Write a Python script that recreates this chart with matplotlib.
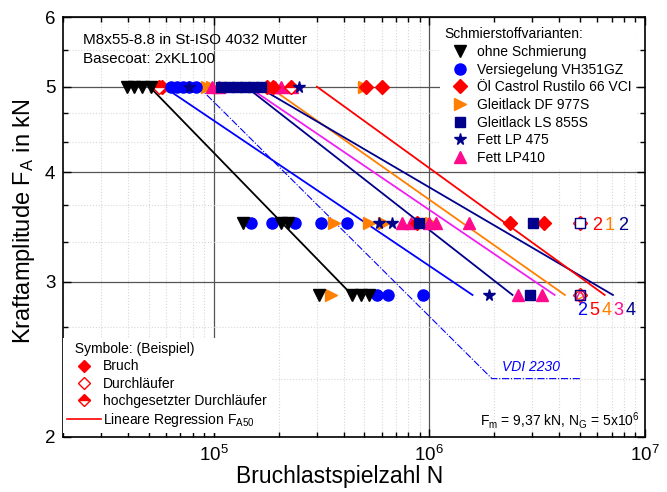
import matplotlib
matplotlib.use("Agg")
import matplotlib.pyplot as plt
from matplotlib.lines import Line2D
from matplotlib.ticker import FixedLocator, NullFormatter, LogLocator, ScalarFormatter

plt.rcParams["font.family"] = ["Liberation Sans", "DejaVu Sans"]
plt.rcParams["mathtext.fontset"] = "custom"
plt.rcParams["mathtext.rm"] = "Liberation Sans"
plt.rcParams["mathtext.it"] = "Liberation Sans:italic"

# --- fractures (N, F_A) per lubricant --------------------------------------
ohne_N = [39400, 42900, 46300, 50900, 136000, 205000, 221000,
          308000, 438000, 483000, 526000]
ohne_F = [5.0, 5.0, 5.0, 5.0, 3.5, 3.5, 3.5, 2.9, 2.9, 2.9, 2.9]

vers_N = [63100, 67300, 71800, 76500, 82500, 149000, 186000, 238000,
          315000, 416000, 573000, 645000, 938000]
vers_F = [5.0, 5.0, 5.0, 5.0, 5.0, 3.5, 3.5, 3.5, 3.5, 3.5, 2.9, 2.9, 2.9]

oel_N = [57300, 176500, 188000, 509000, 604000, 880000, 2360000, 3390000]
oel_F = [5.0, 5.0, 5.0, 5.0, 5.0, 3.5, 3.5, 3.5]

df_N = [92800, 98000, 498000, 362000, 526000, 618000, 1020000, 350000]
df_F = [5.0, 5.0, 5.0, 3.5, 3.5, 3.5, 3.5, 2.9]

ls_N = [107800, 117400, 127900, 139400, 151900, 165500, 898000, 3010000,
        2920000]
ls_F = [5.0, 5.0, 5.0, 5.0, 5.0, 5.0, 3.5, 3.5, 2.9]

lp475_N = [76500, 248500, 585000, 673000, 1900000]
lp475_F = [5.0, 5.0, 3.5, 3.5, 2.9]

lp410_N = [97900, 105500, 192000, 205000, 231000, 749000, 825000, 1000000,
           1078000, 1535000, 2590000, 3320000]
lp410_F = [5.0, 5.0, 5.0, 5.0, 5.0, 3.5, 3.5, 3.5, 3.5, 3.5, 2.9, 2.9]

# raised run-outs (hochgesetzte Durchlaeufer) and run-outs at N_G
oel_raised_N = [55500, 228000]
oel_raised_F = [5.0, 5.0]
N_G = 5e6
runout_mid_F = 3.5
runout_low_F = 2.9

# --- regression lines F_A50 (start N at 5 kN, end N at 2.9 kN) -------------
reg_F = [5.0, 2.9]
ohne_reg = [50400, 438000]
vers_reg = [58500, 1585000]
lp475_reg = [141000, 2430000]
lp410_reg = [144000, 3810000]
df_reg = [180000, 4250000]
ls_reg = [160000, 7100000]
oel_reg = [301000, 6500000]

vdi_N = [85000, 1950000, 5000000]
vdi_F = [5.0, 2.33, 2.33]

# number of run-outs per lubricant
mid_counts = ["2", "1", "2"]
low_counts = ["2", "5", "4", "3", "4"]

BLUE = "#0000FF"
RED = "#FF0000"
ORANGE = "#FF8000"
NAVY = "#00008B"
PINK = "#FF0A8C"
MAGENTA = "#F020F0"

fig = plt.figure(figsize=(6.67, 4.92), dpi=100)
ax = fig.add_axes([0.0945, 0.1118, 0.8725, 0.8536])
ax.set_xscale("log")
ax.set_yscale("log")
ax.set_xlim(2e4, 1e7)
ax.set_ylim(2, 6)

# grid
ax.yaxis.set_major_locator(FixedLocator([2, 3, 4, 5, 6]))
ax.yaxis.set_major_formatter(ScalarFormatter())
ax.yaxis.set_minor_locator(FixedLocator([2.33, 2.67, 3.33, 3.67, 4.33, 4.67, 5.5]))
ax.yaxis.set_minor_formatter(NullFormatter())
ax.xaxis.set_major_locator(LogLocator(base=10))
ax.xaxis.set_minor_locator(LogLocator(base=10, subs=range(2, 10)))
ax.xaxis.set_minor_formatter(NullFormatter())
ax.grid(which="minor", color="#d8d8d8", ls=":", lw=0.8)
ax.grid(which="major", color="#555555", ls="-", lw=0.9)
ax.set_axisbelow(True)
ax.tick_params(which="both", direction="in", top=True, right=True,
               labelsize=13.5, width=1)
ax.tick_params(which="major", length=6)
ax.tick_params(which="minor", length=3.5)
ax.tick_params(axis="x", which="major", pad=6)
ax.tick_params(axis="y", which="major", pad=5.5)
for s in ax.spines.values():
    s.set_linewidth(1.2)

# regression lines
lw = 1.3
ax.plot(ohne_reg, reg_F, color="black", lw=lw, zorder=2)
ax.plot(vers_reg, reg_F, color=BLUE, lw=lw, zorder=2)
ax.plot(lp475_reg, reg_F, color=NAVY, lw=lw, zorder=2)
ax.plot(lp410_reg, reg_F, color=MAGENTA, lw=lw, zorder=2)
ax.plot(df_reg, reg_F, color=ORANGE, lw=lw, zorder=2)
ax.plot(ls_reg, reg_F, color=NAVY, lw=lw, zorder=2)
ax.plot(oel_reg, reg_F, color=RED, lw=lw, zorder=2)
ax.plot(vdi_N, vdi_F, color=BLUE, lw=0.8, ls="-.", zorder=2)
ax.text(2.95e6, 2.40, "VDI 2230", style="italic", color=BLUE, fontsize=10,
        ha="center", va="center")

# fractures
ms = 8
ax.plot(df_N, df_F, ">", color=ORANGE, ms=ms, ls="none", zorder=3)
ax.plot(lp410_N, lp410_F, "^", color=PINK, ms=ms, ls="none", zorder=3)
ax.plot(oel_N, oel_F, "D", color=RED, ms=7, ls="none", zorder=3)
ax.plot(oel_raised_N, oel_raised_F, "D", color=RED, mfc=RED, fillstyle="top",
        markerfacecoloralt="white", ms=7, ls="none", zorder=3)
ax.plot(vers_N, vers_F, "o", color=BLUE, ms=ms, ls="none", zorder=3)
ax.plot(ls_N, ls_F, "s", color=NAVY, ms=6.5, ls="none", zorder=3)
ax.plot(lp475_N, lp475_F, "*", color=NAVY, ms=8.5, ls="none", zorder=3)
ax.plot(ohne_N, ohne_F, "v", color="black", ms=ms, ls="none", zorder=3)

# run-outs at N_G
ax.plot([N_G], [runout_mid_F], "D", mfc="none", mec=RED, ms=7, zorder=3)
ax.plot([N_G], [runout_mid_F], ">", mfc="none", mec=ORANGE, ms=7, zorder=3)
ax.plot([N_G], [runout_mid_F], "s", mfc="white", mec=NAVY, ms=6.5, zorder=3)
for m, c in [("o", BLUE), ("D", RED), (">", ORANGE), ("^", PINK), ("s", NAVY)]:
    ax.plot([N_G], [runout_low_F], m, mfc="none", mec=c, ms=7, zorder=3)

mid_cols = [RED, ORANGE, NAVY]
for i, (t, c) in enumerate(zip(mid_counts, mid_cols)):
    ax.annotate(t, xy=(N_G, runout_mid_F), xytext=(12.2 + 9.4 * i, -2),
                textcoords="offset points", ha="center", va="center",
                color=c, fontsize=13)
low_cols = [BLUE, RED, ORANGE, PINK, NAVY]
for i, (t, c) in enumerate(zip(low_counts, low_cols)):
    ax.annotate(t, xy=(N_G, runout_low_F), xytext=(1.4 + 8.7 * i, -11),
                textcoords="offset points", ha="center", va="center",
                color=c, fontsize=13)

# texts
ax.text(0.034, 0.946, "M8x55-8.8 in St-ISO 4032 Mutter", transform=ax.transAxes,
        fontsize=11, va="center")
ax.text(0.034, 0.900, "Basecoat: 2xKL100", transform=ax.transAxes,
        fontsize=11, va="center")
ax.text(0.991, 0.04, r"F$_\mathrm{m}$ = 9,37 kN, N$_\mathrm{G}$ = 5x10$^\mathrm{6}$",
        transform=ax.transAxes, fontsize=10, ha="right", va="center")

ax.set_xlabel("Bruchlastspielzahl N", fontsize=16.5, labelpad=0)
ax.set_ylabel(r"Kraftamplitude F$_\mathrm{A}$ in kN", fontsize=17, labelpad=6)
ax.xaxis.label.set_x(0.476)
ax.yaxis.label.set_y(0.514)

# legends
h1 = [
    Line2D([], [], ls="none", marker="v", color="black", ms=ms),
    Line2D([], [], ls="none", marker="o", color=BLUE, ms=ms),
    Line2D([], [], ls="none", marker="D", color=RED, ms=7),
    Line2D([], [], ls="none", marker=">", color=ORANGE, ms=ms),
    Line2D([], [], ls="none", marker="s", color=NAVY, ms=6.5),
    Line2D([], [], ls="none", marker="*", color=NAVY, ms=8.5),
    Line2D([], [], ls="none", marker="^", color=PINK, ms=ms),
]
l1 = ["ohne Schmierung", "Versiegelung VH351GZ", "Öl Castrol Rustilo 66 VCI",
      "Gleitlack DF 977S", "Gleitlack LS 855S", "Fett LP 475", "Fett LP410"]
leg1 = ax.legend(h1, l1, loc="upper right", bbox_to_anchor=(0.985, 0.985),
                 title="Schmierstoffvarianten:", alignment="left", fontsize=10,
                 title_fontsize=10, frameon=True, facecolor="white",
                 edgecolor="none", framealpha=1, fancybox=False,
                 handlelength=2.3, handletextpad=0.1, labelspacing=0.26,
                 borderpad=0.3, borderaxespad=0)
ax.add_artist(leg1)

h2 = [
    Line2D([], [], ls="none", marker="D", color=RED, ms=6.5),
    Line2D([], [], ls="none", marker="D", mfc="white", mec=RED, ms=6.5),
    Line2D([], [], ls="none", marker="D", color=RED, fillstyle="top",
           markerfacecoloralt="white", ms=6.5),
    Line2D([], [], color=RED, lw=1.2),
]
l2 = ["Bruch", "Durchläufer", "hochgesetzter Durchläufer",
      r"Lineare Regression F$_\mathrm{A50}$"]
ax.legend(h2, l2, loc="lower left", bbox_to_anchor=(0.0, 0.01),
          title="  Symbole: (Beispiel)", alignment="left", fontsize=10,
          title_fontsize=10, frameon=True, facecolor="white", edgecolor="none",
          framealpha=1, fancybox=False, handlelength=2.4, handletextpad=0.15,
          labelspacing=0.22, borderpad=0.3, borderaxespad=0)

fig.savefig("out.png", dpi=100)
